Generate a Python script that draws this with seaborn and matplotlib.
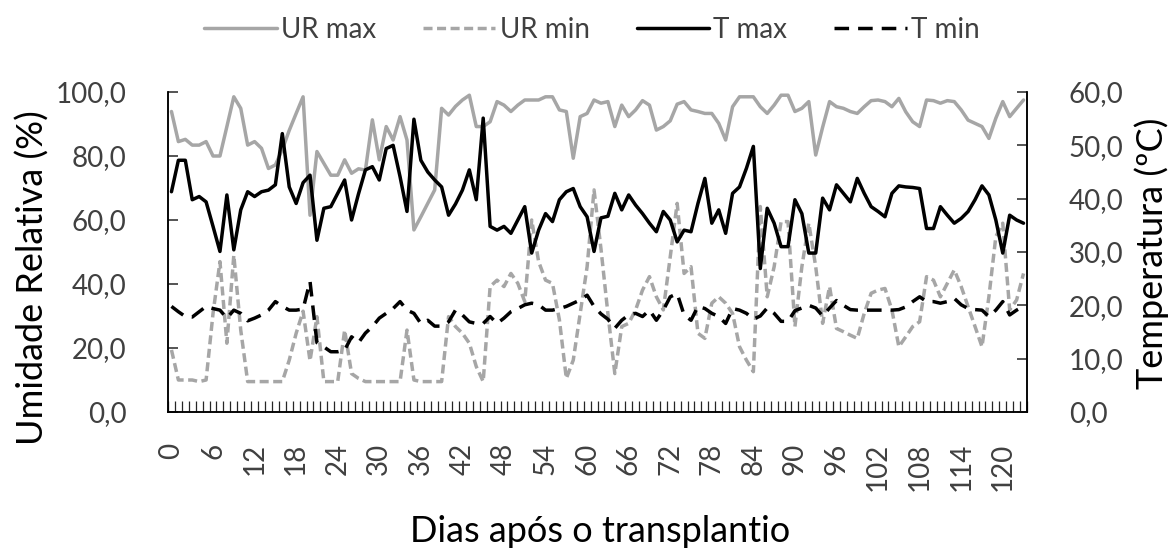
import numpy as np
import pandas as pd
import matplotlib
matplotlib.use('Agg')
import matplotlib.pyplot as plt
from matplotlib.ticker import FuncFormatter
import seaborn as sns

# dados (dias 0..123)
dias = list(range(124))

ur_max = [93.9, 84.5, 85.2, 83.4, 83.4, 84.5, 80.0, 80.0, 89.2, 98.5,
          94.9, 83.4, 84.5, 82.4, 76.1, 77.2, 82.0, 88.0, 93.3, 98.5,
          61.5, 81.4, 77.7, 74.0, 74.0, 78.8, 74.6, 76.0, 75.6, 91.3,
          78.8, 89.2, 85.0, 92.3, 85.0, 56.9, 61.0, 65.2, 69.4, 94.9,
          92.8, 95.5, 97.5, 99.0, 89.2, 89.2, 90.7, 97.0, 95.9, 93.9,
          95.9, 97.5, 97.5, 97.5, 98.5, 98.5, 94.4, 93.9, 79.3, 92.3,
          93.3, 97.5, 96.5, 97.0, 89.2, 95.9, 92.3, 94.4, 97.3, 95.9,
          88.1, 89.2, 91.0, 96.2, 97.0, 94.4, 93.9, 93.3, 93.3, 90.2,
          85.0, 95.4, 98.5, 98.5, 98.5, 95.4, 93.3, 95.9, 99.0, 99.0,
          93.9, 94.9, 97.0, 80.3, 89.0, 97.0, 95.4, 94.9, 93.9, 93.3,
          95.4, 97.3, 97.5, 97.0, 95.4, 98.0, 93.8, 90.7, 89.2, 97.5,
          97.3, 96.5, 97.3, 97.0, 94.4, 91.2, 90.2, 89.2, 85.5, 91.8,
          97.0, 92.3, 94.9, 97.5]

ur_min = [19.4, 10.0, 10.0, 10.0, 9.5, 10.0, 30.8, 47.0, 21.5, 49.0,
          25.6, 9.5, 9.5, 9.5, 9.5, 9.5, 9.5, 16.2, 24.6, 31.5,
          16.0, 29.8, 9.5, 9.5, 9.5, 25.6, 12.0, 10.5, 9.5, 9.5,
          9.5, 9.5, 9.5, 9.5, 25.6, 10.0, 9.5, 9.5, 9.5, 9.5,
          29.8, 26.7, 24.6, 21.5, 14.2, 9.5, 39.2, 41.2, 39.2, 43.3,
          40.2, 34.5, 60.0, 47.0, 41.2, 40.2, 28.8, 10.5, 16.2, 30.8,
          45.4, 69.4, 51.0, 30.8, 12.0, 26.7, 27.7, 31.9, 38.1, 42.3,
          36.0, 31.9, 48.5, 65.2, 43.3, 45.4, 24.6, 23.0, 34.0, 36.0,
          34.0, 30.8, 20.4, 16.2, 12.6, 64.2, 36.0, 45.4, 59.5, 59.5,
          26.7, 45.4, 59.0, 45.4, 27.7, 39.2, 26.1, 25.1, 24.0, 23.0,
          30.8, 37.1, 38.1, 38.6, 31.9, 20.4, 23.5, 26.7, 28.2, 42.3,
          41.2, 36.0, 40.2, 44.4, 39.2, 32.9, 26.7, 20.4, 36.0, 54.8,
          59.0, 31.9, 35.0, 43.3]

t_max = [41.3, 47.2, 47.2, 39.8, 40.4, 39.4, 34.8, 30.1, 40.7, 30.4,
         37.9, 41.3, 40.4, 41.3, 41.6, 42.6, 52.2, 42.2, 39.1, 43.0,
         44.4, 32.2, 38.2, 38.5, 41.0, 43.5, 36.0, 40.9, 45.4, 46.0,
         43.5, 49.4, 50.0, 44.1, 37.6, 54.9, 47.2, 45.0, 43.5, 42.2,
         36.9, 39.0, 41.6, 45.4, 39.8, 55.1, 34.8, 34.1, 34.8, 33.5,
         36.0, 38.5, 29.8, 34.1, 37.2, 35.7, 39.8, 41.3, 41.9, 38.5,
         36.6, 30.1, 36.4, 36.7, 41.0, 37.9, 40.7, 38.8, 37.2, 35.4,
         33.8, 37.6, 36.0, 31.9, 34.1, 33.8, 39.1, 43.8, 35.4, 37.9,
         33.5, 41.0, 42.2, 45.7, 49.8, 26.9, 38.2, 35.4, 31.0, 31.0,
         39.8, 37.2, 29.8, 29.8, 40.1, 37.9, 42.6, 41.0, 39.4, 43.8,
         41.0, 38.5, 37.6, 36.6, 41.0, 42.4, 42.2, 42.1, 41.9, 34.4,
         34.4, 38.5, 36.9, 35.4, 36.3, 37.6, 39.8, 42.4, 40.7, 36.0,
         29.8, 36.9, 36.0, 35.4]

t_min = [19.8, 18.8, 17.9, 17.8, 18.8, 19.8, 19.4, 19.1, 17.6, 19.1,
         18.5, 17.1, 17.6, 18.2, 19.1, 20.7, 19.8, 19.1, 19.1, 19.3,
         24.5, 13.0, 12.2, 11.3, 11.3, 11.6, 14.1, 13.0, 14.8, 16.0,
         17.6, 18.5, 19.4, 20.7, 19.1, 18.5, 16.6, 17.2, 16.1, 16.1,
         16.9, 19.1, 18.2, 16.9, 16.6, 16.6, 17.9, 16.6, 17.6, 18.8,
         19.4, 20.1, 20.4, 20.1, 19.1, 19.1, 19.4, 19.8, 20.4, 21.0,
         21.9, 19.8, 18.4, 17.4, 15.7, 17.2, 18.2, 18.5, 17.9, 19.1,
         17.2, 19.1, 21.6, 22.2, 18.2, 17.2, 19.8, 19.4, 18.5, 17.9,
         16.6, 19.4, 19.1, 18.5, 17.4, 18.0, 19.5, 18.5, 17.0, 17.0,
         19.0, 19.5, 20.0, 19.5, 18.0, 19.5, 20.9, 20.0, 19.2, 19.1,
         19.1, 19.1, 19.1, 19.1, 19.1, 19.2, 19.7, 20.7, 21.6, 20.7,
         20.7, 20.4, 20.7, 21.3, 20.1, 19.4, 19.2, 19.1, 17.9, 19.1,
         20.7, 18.2, 19.1, 19.8]

rotulos_x = [0, 6, 12, 18, 24, 30, 36, 42, 48, 54, 60, 66, 72, 78, 84,
             90, 96, 102, 108, 114, 120]

df = pd.DataFrame({'dia': dias, 'ur_max': ur_max, 'ur_min': ur_min,
                   't_max': t_max, 't_min': t_min})

sns.set_style('white')
plt.rcParams['font.family'] = ['Lato', 'DejaVu Sans']

CINZA = '#A6A6A6'
TXT = '#404040'
W, H = 1173, 560

fig = plt.figure(figsize=(W / 100, H / 100), dpi=100)
ax = fig.add_axes([168 / W, 1 - 412 / H, (1027 - 168) / W, 320 / H])
ax2 = ax.twinx()

sns.lineplot(data=df, x='dia', y='ur_max', ax=ax, color=CINZA, lw=2.5, label='UR max')
sns.lineplot(data=df, x='dia', y='ur_min', ax=ax, color=CINZA, lw=2.5, label='UR min')
ax.lines[1].set_dashes([2.6, 1.3])
sns.lineplot(data=df, x='dia', y='t_max', ax=ax2, color='black', lw=2.5, label='T max')
sns.lineplot(data=df, x='dia', y='t_min', ax=ax2, color='black', lw=2.5, label='T min')
ax2.lines[1].set_dashes([4.2, 2.6])

for a in (ax, ax2):
    if a.get_legend() is not None:
        a.get_legend().remove()
    a.set_xlabel('')
    a.set_ylabel('')
    a.spines['top'].set_visible(False)
    for s in a.spines.values():
        s.set_color('black')
        s.set_linewidth(1.1)

fmt = FuncFormatter(lambda v, p: f'{v:.1f}'.replace('.', ','))

ax.set_xlim(-0.5, 123.5)
ax.set_ylim(0, 100)
ax.set_yticks(np.arange(0, 101, 20))
ax.yaxis.set_major_formatter(fmt)
ax.tick_params(axis='y', direction='in', length=7, width=1.1, pad=30,
               labelsize=20, labelcolor=TXT)

ax2.set_ylim(0, 60)
ax2.set_yticks(np.arange(0, 61, 10))
ax2.yaxis.set_major_formatter(fmt)
ax2.tick_params(axis='y', direction='in', length=7, width=1.1, pad=30,
                labelsize=20, labelcolor=TXT)

ax.set_xticks(rotulos_x)
ax.set_xticklabels([str(v) for v in rotulos_x], rotation=90)
ax.set_xticks(np.arange(-0.5, 124, 1), minor=True)
ax.tick_params(axis='x', which='major', length=0, pad=22, labelsize=20,
               labelcolor=TXT)
ax.tick_params(axis='x', which='minor', direction='in', length=8, width=0.9,
               bottom=True)

fig.text(600 / W, 1 - 532 / H, 'Dias após o transplantio', ha='center',
         va='center', fontsize=26, color='black')
fig.text(33 / W, 1 - 278 / H, 'Umidade Relativa (%)', ha='center',
         va='center', rotation=90, fontsize=26, color='black')
fig.text(1152 / W, 1 - 253 / H, 'Temperatura (ºC)', ha='center',
         va='center', rotation=90, fontsize=26, color='black')

h1, l1 = ax.get_legend_handles_labels()
h2, l2 = ax2.get_legend_handles_labels()
leg = fig.legend(h1 + h2, l1 + l2, loc='center', bbox_to_anchor=(592 / W, 1 - 30 / H),
                 ncol=4, frameon=False, fontsize=20, handlelength=2.6,
                 handletextpad=0.15, columnspacing=1.7)
for t in leg.get_texts():
    t.set_color(TXT)

fig.savefig('out.png', dpi=100)
